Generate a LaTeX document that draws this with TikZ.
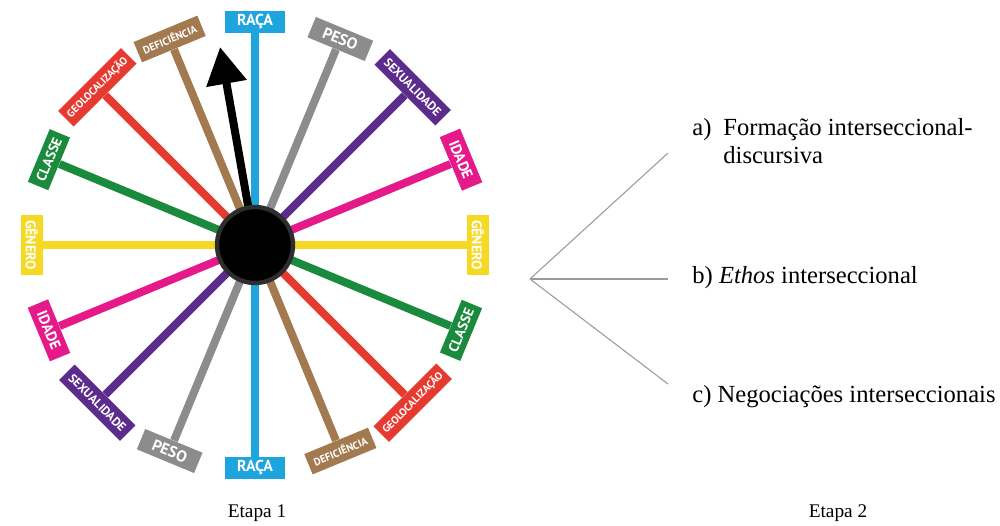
\documentclass[tikz,border=0pt]{standalone}
\usepackage{fontspec}
\setmainfont{Liberation Serif}
\newfontfamily\labfont{PT Sans}
\usetikzlibrary{arrows.meta}
\definecolor{craca}{HTML}{1EA5DE}
\definecolor{cpeso}{HTML}{8C8C8C}
\definecolor{csex}{HTML}{5B2C8C}
\definecolor{cidade}{HTML}{E6198A}
\definecolor{cgenero}{HTML}{F6D924}
\definecolor{cclasse}{HTML}{1A8A3C}
\definecolor{cgeo}{HTML}{E63A30}
\definecolor{cdef}{HTML}{A37A50}
\definecolor{cline}{HTML}{9A9A9A}
\begin{document}
\begin{tikzpicture}[x=0.02cm,y=0.02cm,
  lab/.style={fill=#1, text=white, minimum height=0.44cm, inner sep=0pt},
  fs/.style={font=\labfont\bfseries\fontsize{#1}{#1}\selectfont},
  spoke/.style={draw=#1, line width=0.16cm},
  thin/.style={draw=cline, line width=0.6pt},
  txt/.style={anchor=base west, inner sep=0pt, font=\fontsize{14}{16}\selectfont},
  etapa/.style={anchor=base, inner sep=0pt, font=\fontsize{11}{13}\selectfont}]
\useasboundingbox (0,0) rectangle (1000,525);
\coordinate (c) at (255,280);
% labels, upper half
\node[lab=craca, fs=9, minimum width=1.2cm, rotate=0] (r1) at ([shift={(90:223)}]c) {RAÇA};
\node[lab=cpeso, fs=9, minimum width=1.24cm, rotate=-22.5] (p1) at ([shift={(67.5:223)}]c) {PESO};
\node[lab=csex, fs=7, minimum width=1.72cm, rotate=-45] (s1) at ([shift={(45:223)}]c) {SEXUALIDADE};
\node[lab=cidade, fs=8.5, minimum width=1.16cm, rotate=-67.5] (i1) at ([shift={(22.5:223)}]c) {IDADE};
\node[lab=cgenero, fs=8, minimum width=1.2cm, rotate=-90] (g1) at ([shift={(0:223)}]c) {GÊNERO};
\node[lab=cdef, fs=6, minimum width=1.38cm, rotate=22.5] (d1) at ([shift={(112.5:223)}]c) {DEFICIÊNCIA};
\node[lab=cgeo, fs=6, minimum width=1.78cm, rotate=45] (e1) at ([shift={(135:223)}]c) {GEOLOCALIZAÇÃO};
\node[lab=cclasse, fs=8, minimum width=1.14cm, rotate=67.5] (k1) at ([shift={(157.5:223)}]c) {CLASSE};
% labels, lower half
\node[lab=craca, fs=9, minimum width=1.2cm, rotate=0] (r2) at ([shift={(270:223)}]c) {RAÇA};
\node[lab=cpeso, fs=9, minimum width=1.24cm, rotate=-22.5] (p2) at ([shift={(247.5:223)}]c) {PESO};
\node[lab=csex, fs=7, minimum width=1.72cm, rotate=-45] (s2) at ([shift={(225:223)}]c) {SEXUALIDADE};
\node[lab=cidade, fs=8.5, minimum width=1.16cm, rotate=-67.5] (i2) at ([shift={(202.5:223)}]c) {IDADE};
\node[lab=cgenero, fs=8, minimum width=1.2cm, rotate=-90] (g2) at ([shift={(180:223)}]c) {GÊNERO};
\node[lab=cdef, fs=6, minimum width=1.38cm, rotate=22.5] (d2) at ([shift={(-67.5:223)}]c) {DEFICIÊNCIA};
\node[lab=cgeo, fs=6, minimum width=1.78cm, rotate=45] (e2) at ([shift={(-45:223)}]c) {GEOLOCALIZAÇÃO};
\node[lab=cclasse, fs=8, minimum width=1.14cm, rotate=67.5] (k2) at ([shift={(-22.5:223)}]c) {CLASSE};
% spokes
\draw[spoke=cgenero] (g2) -- (g1);
\draw[spoke=cclasse] (k1) -- (k2);
\draw[spoke=cidade] (i2) -- (i1);
\draw[spoke=cgeo] (e1) -- (e2);
\draw[spoke=csex] (s2) -- (s1);
\draw[spoke=cdef] (d1) -- (d2);
\draw[spoke=cpeso] (p2) -- (p1);
\draw[spoke=craca] (r1) -- (r2);
% pointer
\coordinate (tip) at ([shift={(100:201)}]c);
\draw[line width=0.16cm, black, -{Triangle[length=0.74cm,width=0.78cm]}] (c) -- (tip);
\node[circle, fill=black, draw=black!82, line width=2.5pt, minimum size=1.52cm, inner sep=0pt] (hub) at (c) {};
% stage 2
\coordinate (apex) at (530,246);
\coordinate (ea) at (668,372);
\coordinate (eb) at (668,246);
\coordinate (ec) at (668,141);
\draw[thin] (apex) -- (ea);
\draw[thin] (apex) -- (eb);
\draw[thin] (apex) -- (ec);
\node[txt] (ta0) at (692,390) {a)};
\node[txt] (ta1) at (723,390) {Formação interseccional-};
\node[txt] (ta2) at (723,362) {discursiva};
\node[txt] (tb) at (692,242) {b) \textit{Ethos} interseccional};
\node[txt] (tc) at (692,123) {c) Negociações interseccionais};
\node[etapa] (et1) at (257,8) {Etapa 1};
\node[etapa] (et2) at (838,8) {Etapa 2};
\end{tikzpicture}
\end{document}
